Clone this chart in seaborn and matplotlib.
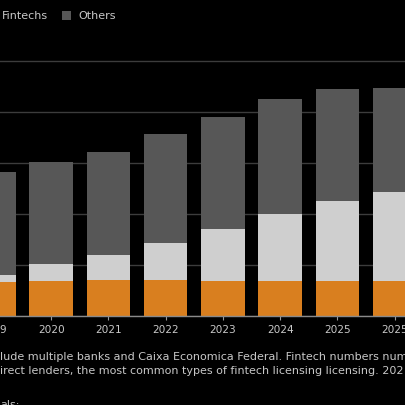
import matplotlib
matplotlib.use("Agg")
import matplotlib.pyplot as plt
from matplotlib.patches import Rectangle
import numpy as np
import pandas as pd
import seaborn as sns

# ---- data (units: institutions) ----
categories = ["2019", "2020", "2021", "2022", "2023", "2024", "2025", "2025b"]
tick_labels = ["2019", "2020", "2021", "2022", "2023", "2024", "2025", "2025"]
banks = [168, 173, 176, 175, 172, 172, 173, 172]
fintechs = [34, 80, 121, 183, 253, 328, 392, 435]
others = [505, 502, 507, 536, 549, 565, 549, 512]
series_names = ["Banks", "Fintechs", "Others"]
grid_values = [0, 250, 500, 750, 1000, 1250]
footer_lines = [
    "lude multiple banks and Caixa Economica Federal. Fintech numbers num",
    "irect lenders, the most common types of fintech licensing licensing. 202",
]
footer_tail = "als:"

# ---- styling ----
BG = "#000000"
C_BANKS = "#d97f1f"
C_FINTECHS = "#cfcfcf"
C_OTHERS = "#575757"
GRID = "#3c3c3c"
TXT = "#c8c8c8"

sns.set_theme(style="dark")
plt.rcParams["font.family"] = ["DejaVu Sans"]

W = H = 406
fig = plt.figure(figsize=(W / 100, H / 100), dpi=100, facecolor=BG)
# axes extends beyond the visible frame (the reference is a crop)
left_px, right_px, base_px, top_px = -40, 446, 317, 40
ax = fig.add_axes([left_px / W, (H - base_px) / H,
                   (right_px - left_px) / W, (base_px - top_px) / H])
ax.set_facecolor(BG)

df = pd.DataFrame({"cat": categories, "banks": banks,
                   "fintechs": fintechs, "others": others})
df["bf"] = df["banks"] + df["fintechs"]
df["total"] = df["bf"] + df["others"]

bw = 0.76
sns.barplot(data=df, x="cat", y="total", order=categories, color=C_OTHERS,
            saturation=1, width=bw, ax=ax, linewidth=0, zorder=3)
sns.barplot(data=df, x="cat", y="bf", order=categories, color=C_FINTECHS,
            saturation=1, width=bw, ax=ax, linewidth=0, zorder=3)
sns.barplot(data=df, x="cat", y="banks", order=categories, color=C_BANKS,
            saturation=1, width=bw, ax=ax, linewidth=0, zorder=3)

# x mapping: 2020 centre at 51.2px, step 57.22px
step = 57.22
c2020 = 51.2
x0 = 1 + (left_px - c2020) / step
x1 = 1 + (right_px - c2020) / step
ax.set_xlim(x0, x1)
ax.set_ylim(0, (base_px - top_px) / 51.0 * 250)

ax.set_xticks(range(len(categories)))
ax.set_xticklabels(tick_labels)
ax.set_yticks(grid_values)
ax.set_yticklabels([])
ax.tick_params(axis="y", length=0)
ax.tick_params(axis="x", length=3, width=0.8, color="#9a9a9a",
               labelcolor=TXT, labelsize=7.6, pad=3, direction="out",
               bottom=True)
ax.set_xlabel("")
ax.set_ylabel("")
ax.grid(axis="y", color=GRID, linewidth=1.0, zorder=0)
ax.grid(axis="x", visible=False)
ax.set_axisbelow(True)
for s in ["top", "right", "left"]:
    ax.spines[s].set_visible(False)
ax.spines["bottom"].set_color("#8a8a8a")
ax.spines["bottom"].set_linewidth(1.0)
ax.spines["bottom"].set_zorder(4)

# ---- legend (cropped; Banks entry lies outside the frame) ----
ly = 1 - 16 / H
fig.text(48 / W, ly, series_names[1], color=TXT, fontsize=8.0,
         ha="right", va="center")
fig.patches.append(Rectangle((62 / W, 1 - 21 / H), 9 / W, 9 / H,
                             transform=fig.transFigure, facecolor=C_OTHERS,
                             edgecolor="none"))
fig.text(78 / W, ly, series_names[2], color=TXT, fontsize=8.0,
         ha="left", va="center")

# ---- footer ----
fig.text(0 / W, 1 - 357 / H, footer_lines[0], color=TXT, fontsize=8.0,
         ha="left", va="center")
fig.text(0 / W, 1 - 371 / H, footer_lines[1], color=TXT, fontsize=8.0,
         ha="left", va="center")
fig.text(0 / W, 1 - 405 / H, footer_tail, color=TXT, fontsize=8.0,
         ha="left", va="center")

fig.savefig("out.png", dpi=100, facecolor=BG)
